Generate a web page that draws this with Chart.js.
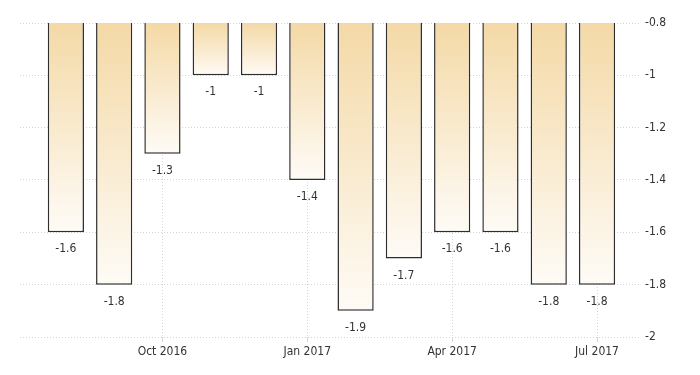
<!DOCTYPE html>
<html>
<head>
<meta charset="utf-8">
<script src="https://cdn.jsdelivr.net/npm/chart.js@4/dist/chart.umd.min.js"></script>
<style>
  html, body { margin: 0; padding: 0; background: #fff; }
  #wrap { width: 700px; height: 375px; }
</style>
</head>
<body>
<div id="wrap"><canvas id="chart" width="700" height="375"></canvas></div>
<script>
"use strict";

// months Aug 2016 .. Jul 2017
var months = ["Aug 2016", "Sep 2016", "Oct 2016", "Nov 2016", "Dec 2016", "Jan 2017",
              "Feb 2017", "Mar 2017", "Apr 2017", "May 2017", "Jun 2017", "Jul 2017"];
var values = [-1.6, -1.8, -1.3, -1, -1, -1.4, -1.9, -1.7, -1.6, -1.6, -1.8, -1.8];
var labelledMonths = [2, 5, 8, 11];
var yTicks = [-0.8, -1, -1.2, -1.4, -1.6, -1.8, -2];

var fontFamily = "'Liberation Sans Narrow', 'DejaVu Sans Condensed', Arial, sans-serif";
var textColor = "#333";

var points = values.map(function(v, i) {
    return {x: i, y: v};
});

var barGradient = function(context) {
    var chart = context.chart;
    var yScale = chart.scales.y;
    if (!chart.chartArea || !yScale || context.raw === undefined) {
        return "#f4dcaa";
    }
    var top = yScale.getPixelForValue(yScale.max);
    var bottom = yScale.getPixelForValue(context.raw.y);
    var g = chart.ctx.createLinearGradient(0, top, 0, bottom);
    g.addColorStop(0, "#f4d9a6");
    g.addColorStop(1, "#fefbf6");
    return g;
};

var valueLabels = {
    id: "valueLabels",
    afterDatasetsDraw: function(chart) {
        var ctx = chart.ctx;
        var meta = chart.getDatasetMeta(0);
        ctx.save();
        ctx.font = "12px " + fontFamily;
        ctx.fillStyle = textColor;
        ctx.textAlign = "center";
        ctx.textBaseline = "middle";
        meta.data.forEach(function(bar, i) {
            ctx.fillText(String(values[i]), bar.x, bar.y + 17);
        });
        ctx.restore();
    }
};

var ctx = document.getElementById("chart").getContext("2d");
var chart = new Chart(ctx, {
    type: "bar",
    data: {
        datasets: [{
            data: points,
            backgroundColor: barGradient,
            borderColor: "#2e2e2e",
            borderWidth: 1.5,
            borderSkipped: false,
            barPercentage: 0.75,
            categoryPercentage: 1
        }]
    },
    options: {
        responsive: false,
        animation: false,
        layout: {padding: {left: 20, top: 23, right: 0, bottom: 0}},
        plugins: {
            legend: {display: false},
            tooltip: {enabled: false}
        },
        scales: {
            x: {
                type: "linear",
                offset: false,
                min: -0.95,
                max: 11.89,
                afterBuildTicks: function(scale) {
                    scale.ticks = labelledMonths.map(function(i) { return {value: i}; });
                },
                afterFit: function(scale) { scale.height = 38; },
                ticks: {
                    callback: function(v) { return months[v]; },
                    color: textColor,
                    font: {size: 12, family: fontFamily},
                    padding: 3,
                    maxRotation: 0,
                    autoSkip: false
                },
                grid: {
                    offset: false,
                    color: "#d4d4d4",
                    lineWidth: 1,
                    tickLength: 5,
                    drawTicks: true
                },
                border: {display: false, dash: [1, 2]}
            },
            y: {
                position: "right",
                min: -2,
                max: -0.8,
                afterBuildTicks: function(scale) {
                    scale.ticks = yTicks.map(function(v) { return {value: v}; });
                },
                afterFit: function(scale) { scale.width = 60; },
                ticks: {
                    callback: function(v) { return String(Math.round(v * 10) / 10); },
                    color: textColor,
                    font: {size: 12, family: fontFamily},
                    padding: 5
                },
                grid: {
                    color: "#d4d4d4",
                    lineWidth: 1,
                    drawTicks: false
                },
                border: {display: false, dash: [1, 2]}
            }
        }
    },
    plugins: [valueLabels]
});
</script>
</body>
</html>
